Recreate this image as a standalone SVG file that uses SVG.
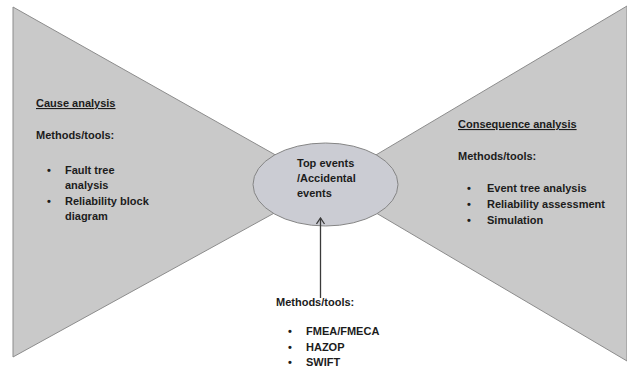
<svg xmlns="http://www.w3.org/2000/svg" width="627" height="371" viewBox="0 0 627 371">
  <style>
    .wing { fill: #c9c9c9; stroke: #8c8c8c; stroke-width: 1; }
    .hub { fill: #cbccd3; stroke: #858585; stroke-width: 1; }
    text { font-family: "Liberation Sans", Arial, sans-serif; font-weight: bold; font-size: 11px; fill: #1c1c1c; }
    .u { text-decoration: underline; }
    .link { stroke: #3a3a3a; stroke-width: 1.3; fill: none; }
  </style>
  <defs>
    <!-- open chevron head, drawn pointing along +x so orient="auto" turns it with the line -->
    <marker id="open-head" markerWidth="10" markerHeight="10" refX="9" refY="5" orient="auto" markerUnits="userSpaceOnUse" viewBox="0 0 10 10">
      <path d="M3,1 L9,5 L3,9" fill="none" stroke="#3a3a3a" stroke-width="1.3"/>
    </marker>
  </defs>

  <!-- left wing: causes -->
  <g id="cause">
    <polygon class="wing" points="13,7 13,357 327,184"/>
    <text x="36" y="107" class="u">Cause analysis</text>
    <text x="36" y="139">Methods/tools:</text>
    <text x="47" y="174">•</text>
    <text x="65" y="174">Fault tree</text>
    <text x="65" y="189">analysis</text>
    <text x="47" y="205">•</text>
    <text x="65" y="205">Reliability block</text>
    <text x="65" y="220">diagram</text>
  </g>

  <!-- right wing: consequences -->
  <g id="consequence">
    <polygon class="wing" points="627,6 627,361 327,184"/>
    <text x="458" y="128" class="u">Consequence analysis</text>
    <text x="458" y="160">Methods/tools:</text>
    <text x="467" y="192">•</text>
    <text x="487" y="192">Event tree analysis</text>
    <text x="467" y="208">•</text>
    <text x="487" y="208">Reliability assessment</text>
    <text x="467" y="224">•</text>
    <text x="487" y="224">Simulation</text>
  </g>

  <!-- centre knot -->
  <g id="top-event">
    <ellipse class="hub" cx="325.5" cy="184.5" rx="72.5" ry="41.5"/>
    <text x="297" y="167">Top events</text>
    <text x="297" y="182">/Accidental</text>
    <text x="297" y="197">events</text>
  </g>

  <!-- methods feeding the top event -->
  <g id="top-methods">
    <text x="276" y="306">Methods/tools:</text>
    <text x="288" y="335">•</text>
    <text x="306" y="335">FMEA/FMECA</text>
    <text x="288" y="351">•</text>
    <text x="306" y="351">HAZOP</text>
    <text x="288" y="366">•</text>
    <text x="306" y="366">SWIFT</text>
  </g>

  <g id="connectors">
    <line class="link" x1="320.5" y1="298" x2="320.5" y2="218" marker-end="url(#open-head)"/>
  </g>
</svg>
